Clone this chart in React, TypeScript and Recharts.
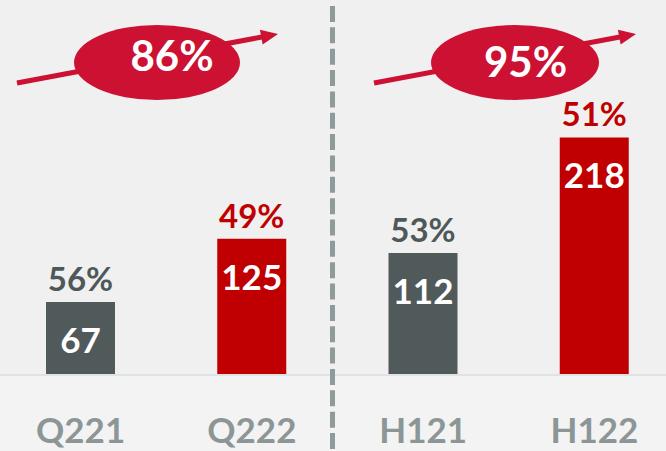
import React from 'react';
import { BarChart, Bar, XAxis, YAxis, Cell, LabelList } from 'recharts';

const categories = ['Q221', 'Q222', 'H121', 'H122'];
const values = [67, 125, 112, 218];
const shares = ['56%', '49%', '53%', '51%'];
const barColors = ['#515a5a', '#c00000', '#515a5a', '#c00000'];
const shareColors = ['#4f5858', '#c00000', '#4f5858', '#c00000'];
const growthLabels = ['86%', '95%'];

const data = categories.map((name, i) => ({ name, value: values[i], share: shares[i] }));

const FONT = 'Lato, "Open Sans", sans-serif';
const ACCENT = '#cc1133';

const ValueLabel = (props: any) => {
  const { x, y, width, value } = props;
  return (
    <text x={x + width / 2} y={y + 51} textAnchor="middle" fill="#ffffff"
      style={{ fontFamily: FONT, fontWeight: 700, fontSize: 35 }}>
      {value}
    </text>
  );
};

const ShareLabel = (props: any) => {
  const { x, y, width, value, index } = props;
  return (
    <text x={x + width / 2} y={y - 11} textAnchor="middle" fill={shareColors[index]}
      style={{ fontFamily: FONT, fontWeight: 700, fontSize: 33 }}>
      {value}
    </text>
  );
};

function Arrow({ x1, y1, x2, y2 }: { x1: number; y1: number; x2: number; y2: number }) {
  const dx = x2 - x1, dy = y2 - y1;
  const len = Math.sqrt(dx * dx + dy * dy);
  const ux = dx / len, uy = dy / len;
  const nx = -uy, ny = ux;
  const headLen = 17, headHalf = 7.5;
  const bx = x2 - ux * headLen, by = y2 - uy * headLen;
  const pts = `${x2},${y2} ${bx + nx * headHalf},${by + ny * headHalf} ${bx - nx * headHalf},${by - ny * headHalf}`;
  return (
    <g>
      <line x1={x1} y1={y1} x2={bx + ux * 2} y2={by + uy * 2} stroke={ACCENT} strokeWidth={5} />
      <polygon points={pts} fill={ACCENT} />
    </g>
  );
}

export default function App() {
  return (
    <div style={{ position: 'absolute', left: 0, top: 0, width: 666, height: 451, background: '#f0f0f0', overflow: 'hidden' }}>
      <div style={{ position: 'absolute', left: 0, top: 375, width: 666, height: 76, background: '#f3f3f3' }} />
      <div style={{ position: 'absolute', left: 0, top: 0 }}>
        <BarChart width={666} height={451} data={data} margin={{ top: 48, right: -14, bottom: 0, left: -5 }}>
          <XAxis dataKey="name" height={76} axisLine={{ stroke: '#dfe3e3', strokeWidth: 2 }} tickLine={false}
            tickMargin={37}
            tick={{ fill: '#8c9696', fontSize: 35, fontWeight: 700, fontFamily: FONT }} interval={0} />
          <YAxis hide domain={[0, 300]} />
          <Bar dataKey="value" barSize={69} isAnimationActive={false}>
            {data.map((d, i) => (
              <Cell key={d.name} fill={barColors[i]} />
            ))}
            <LabelList dataKey="value" content={ValueLabel} />
            <LabelList dataKey="share" content={ShareLabel} />
          </Bar>
        </BarChart>
      </div>
      <svg width={666} height={451} style={{ position: 'absolute', left: 0, top: 0, pointerEvents: 'none' }}>
        <line x1={332.5} y1={6} x2={332.5} y2={451} stroke="#8f9a9a" strokeWidth={5} strokeDasharray="16 5.35" />
        <Arrow x1={17} y1={83} x2={278} y2={34} />
        <ellipse cx={157} cy={62.5} rx={83} ry={37.5} fill={ACCENT} />
        <text x={172} y={71} textAnchor="middle" fill="#ffffff" style={{ fontFamily: FONT, fontWeight: 700, fontSize: 42 }}>
          {growthLabels[0]}
        </text>
        <Arrow x1={374} y1={83} x2={636} y2={34} />
        <ellipse cx={515} cy={62.5} rx={84} ry={37.5} fill={ACCENT} />
        <text x={525.5} y={77} textAnchor="middle" fill="#ffffff" style={{ fontFamily: FONT, fontWeight: 700, fontSize: 42 }}>
          {growthLabels[1]}
        </text>
      </svg>
    </div>
  );
}
